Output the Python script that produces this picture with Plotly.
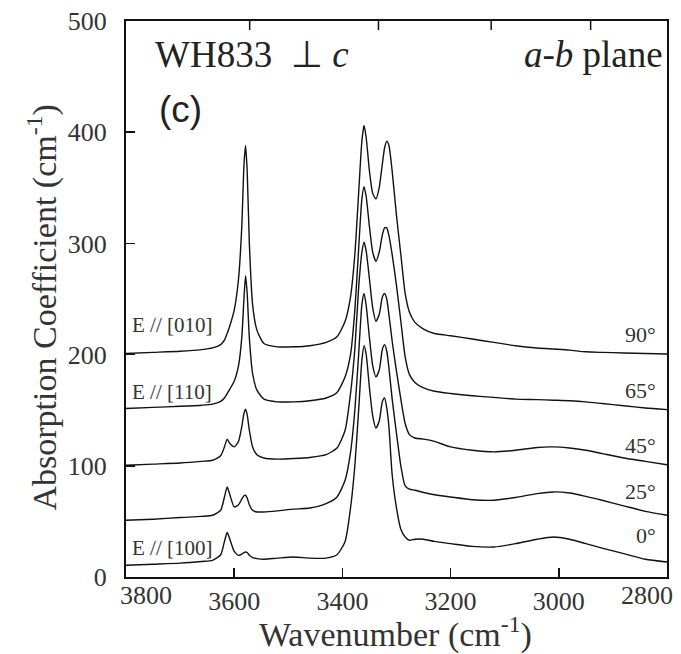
import plotly.graph_objects as go

# Wavenumber grid (cm^-1)
wavenumber = [3800, 3750, 3700, 3660, 3640, 3625, 3618, 3613, 3608, 3600,
              3592, 3586, 3582, 3579, 3576, 3572, 3566, 3558, 3545, 3520,
              3490, 3460, 3430, 3410, 3395, 3385, 3377, 3370, 3364, 3360,
              3356, 3350, 3344, 3338, 3332, 3326, 3322, 3318, 3314, 3308,
              3300, 3292, 3284, 3276, 3266, 3250, 3230, 3200, 3160, 3120,
              3080, 3040, 3010, 2980, 2950, 2920, 2880, 2840, 2800]

# Absorption coefficient (cm^-1), offset spectra as plotted
spec_90 = [201, 202, 203, 204.5, 206, 209, 213, 219, 226, 240,
           268, 315, 370, 388, 365, 300, 245, 222, 210, 207,
           207, 208, 211, 216, 230, 252, 290, 345, 392, 406,
           395, 365, 345, 340, 350, 372, 386, 392, 388, 365,
           325, 290, 255, 238, 229, 223, 219, 217, 214, 211,
           208, 206, 205, 204, 202.5, 202, 201.5, 201, 200.5]

spec_65 = [151.5, 152.5, 153.5, 154.5, 155.5, 158, 161, 165, 169, 176,
           190, 215, 250, 271, 255, 215, 183, 168, 160, 157.5,
           157.5, 158.5, 161, 166, 180, 200, 240, 295, 340, 351,
           342, 315, 292, 284, 292, 308, 314, 314, 307, 290,
           262, 230, 198, 182, 175, 170, 167, 165, 163, 161.5,
           160, 159.5, 159, 158.5, 157.5, 156, 154, 152, 150.5]

spec_45 = [100.5, 101.5, 102.5, 104, 105, 109, 117, 124, 120, 117,
           122, 135, 147, 151, 146, 132, 117, 110, 107, 106,
           106.5, 107.5, 110, 116, 132, 165, 205, 260, 292, 301,
           293, 268, 242, 230, 236, 252, 255, 250, 236, 212,
           185, 160, 138, 128, 125, 124, 122, 117, 114, 112.5,
           114, 116.5, 117, 116, 114, 111, 107, 104, 101]

spec_25 = [51, 52, 53.5, 54.5, 55.5, 60, 72, 81, 74, 63,
           65, 70, 73, 73.5, 71, 65, 60, 58.5, 58.5, 59.5,
           61, 62, 66, 72, 87, 112, 150, 200, 245, 255,
           244, 215, 190, 180, 186, 205, 209, 203, 188, 160,
           129, 100, 82, 79, 78, 76, 74, 72, 69.5, 69,
           71.5, 75, 76.5, 75.5, 72.5, 69, 64, 59, 55.5]

spec_0 = [10.5, 11.5, 12.5, 14, 15, 20, 32, 40, 34, 23,
          19.5, 20.5, 22, 22.5, 22, 19.5, 17.5, 16.5, 16, 17,
          18, 17, 17, 20, 32, 62, 100, 150, 195, 208,
          200, 170, 145, 134, 140, 158, 161, 152, 135, 92,
          62, 43, 36, 33, 34, 34, 32, 30, 27.5, 27,
          30, 34, 36, 34, 30, 26, 21, 16, 13.5]

angle_labels = ["90°", "65°", "45°", "25°", "0°"]
angle_label_y = [218, 168, 118, 77, 37]
pol_labels = ["E // [010]", "E // [110]", "E // [100]"]
pol_label_y = [227, 166, 26]

x_range = [3800, 2800]
y_range = [0, 500]
x_ticks = [3600, 3400, 3200, 3000]
y_ticks = [0, 100, 200, 300, 400, 500]
top_ticks_um = [2.8, 3.0, 3.2, 3.4]

SERIF = "Liberation Serif, Times New Roman, serif"
INK = "#111111"
TXT = "#333333"

fig = go.Figure()
for s in [spec_0, spec_25, spec_45, spec_65, spec_90]:
    fig.add_trace(go.Scatter(x=wavenumber, y=s, mode="lines",
                             line=dict(color=INK, width=1.4, shape="spline", smoothing=0.6),
                             showlegend=False, hoverinfo="skip"))

fig.update_layout(
    width=681, height=654,
    margin=dict(l=126, r=14, t=21, b=77, autoexpand=False),
    paper_bgcolor="white", plot_bgcolor="white",
    font=dict(family=SERIF, color=TXT),
    xaxis=dict(range=x_range, tickvals=x_ticks, ticks="inside", ticklen=9, tickwidth=1.5,
               tickcolor=INK, showline=True, linewidth=2, linecolor=INK, mirror=True,
               showgrid=False, zeroline=False,
               tickfont=dict(family=SERIF, size=26, color=TXT)),
    yaxis=dict(range=y_range, tickvals=y_ticks, ticks="inside", ticklen=9, tickwidth=1.5,
               tickcolor=INK, showline=True, linewidth=2, linecolor=INK, mirror=True,
               showgrid=False, zeroline=False, ticklabelstandoff=12,
               tickfont=dict(family=SERIF, size=26, color=TXT)),
)

# top axis ticks (wavelength in micrometres), no labels
shapes = []
for u in top_ticks_um:
    shapes.append(dict(type="line", xref="x", yref="paper", x0=1e4 / u, x1=1e4 / u,
                       y0=1, y1=1 - 9 / 556, line=dict(color=INK, width=1.5), layer="above"))
fig.update_layout(shapes=shapes)

NB = "\u00a0"
ann = []
ann.append(dict(x=0.037, y=-0.034, xref="paper", yref="paper", text="3800", showarrow=False,
                font=dict(family=SERIF, size=26, color=TXT), xanchor="center", yanchor="middle"))
ann.append(dict(x=0.963, y=-0.034, xref="paper", yref="paper", text="2800", showarrow=False,
                font=dict(family=SERIF, size=26, color=TXT), xanchor="center", yanchor="middle"))
ann.append(dict(x=0.499, y=-0.099, xref="paper", yref="paper",
                text="Wavenumber (cm<sup>-1</sup>)", showarrow=False,
                font=dict(family=SERIF, size=34, color=TXT), xanchor="center", yanchor="middle"))
ann.append(dict(x=-0.155, y=0.485, xref="paper", yref="paper",
                text="Absorption Coefficient (cm<sup>-1</sup>)", showarrow=False, textangle=-90,
                font=dict(family=SERIF, size=34, color=TXT), xanchor="center", yanchor="middle"))
ann.append(dict(x=0.05, y=0.94, xref="paper", yref="paper",
                text="WH833 " + NB + "<span style='font-family:DejaVu Sans'>⊥</span>" + NB + "<i>c</i>",
                showarrow=False,
                font=dict(family=SERIF, size=37, color="#222"), xanchor="left", yanchor="middle"))
ann.append(dict(x=0.996, y=0.94, xref="paper", yref="paper",
                text="<i>a-b</i> plane", showarrow=False,
                font=dict(family=SERIF, size=37, color="#222"), xanchor="right", yanchor="middle"))
ann.append(dict(x=0.058, y=0.84, xref="paper", yref="paper", text="(c)", showarrow=False,
                font=dict(family="Liberation Sans, Arial, sans-serif", size=37, color="#222"),
                xanchor="left", yanchor="middle"))
for t, yv in zip(pol_labels, pol_label_y):
    ann.append(dict(x=3792, y=yv, xref="x", yref="y", text=t, showarrow=False,
                    font=dict(family=SERIF, size=21, color=TXT), xanchor="left", yanchor="middle"))
for t, yv in zip(angle_labels, angle_label_y):
    ann.append(dict(x=2816, y=yv, xref="x", yref="y", text=t, showarrow=False,
                    font=dict(family=SERIF, size=22, color=TXT), xanchor="right", yanchor="middle"))
fig.update_layout(annotations=ann)

fig.write_html("out.html", config={"staticPlot": True},
               post_script="document.body.style.margin='0px';")
